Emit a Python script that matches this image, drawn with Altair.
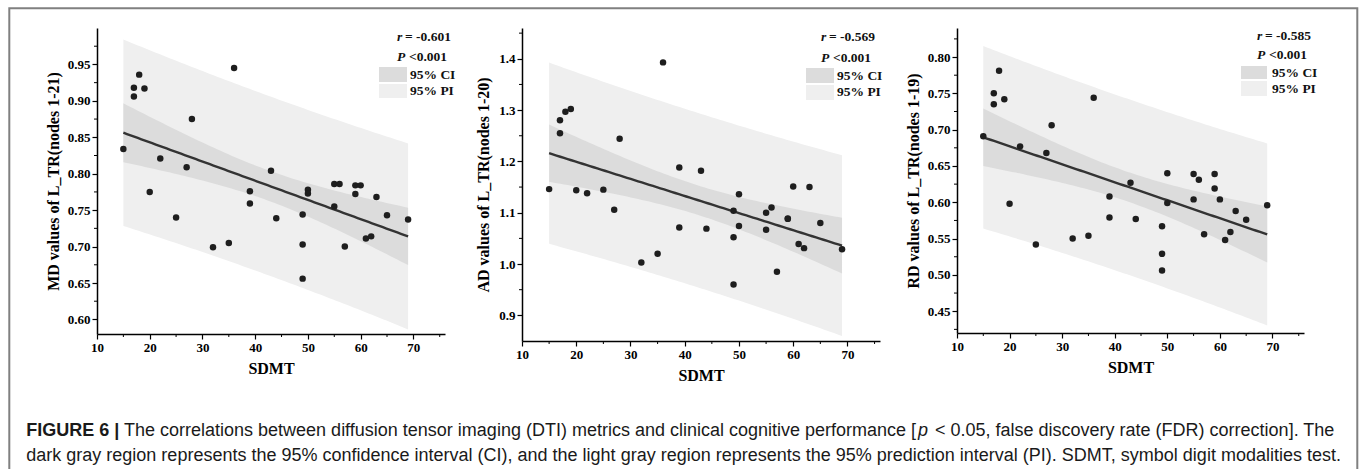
import altair as alt
import numpy as np
import pandas as pd

# ---- data -------------------------------------------------------------
sdmt = [15, 17, 17, 18, 19, 20, 22, 25, 27, 28, 32, 35, 36, 39, 39, 43, 44,
        49, 49, 49, 50, 50, 55, 55, 56, 57, 59, 59, 60, 61, 62, 63, 65, 69]

md_values = [0.834, 0.918, 0.906, 0.936, 0.917, 0.775, 0.821, 0.740, 0.809,
             0.875, 0.699, 0.705, 0.945, 0.776, 0.759, 0.804, 0.739, 0.744,
             0.703, 0.656, 0.778, 0.773, 0.786, 0.755, 0.786, 0.700, 0.784,
             0.772, 0.784, 0.711, 0.714, 0.768, 0.743, 0.737]

ad_values = [1.146, 1.280, 1.255, 1.297, 1.302, 1.144, 1.138, 1.145, 1.106,
             1.244, 1.003, 1.020, 1.393, 1.188, 1.071, 1.182, 1.069, 1.104,
             1.052, 0.960, 1.136, 1.074, 1.100, 1.067, 1.110, 0.985, 1.089,
             1.088, 1.151, 1.039, 1.031, 1.150, 1.080, 1.029]

rd_values = [0.691, 0.750, 0.735, 0.781, 0.742, 0.598, 0.677, 0.542, 0.668,
             0.706, 0.550, 0.554, 0.744, 0.608, 0.579, 0.627, 0.577, 0.567,
             0.529, 0.506, 0.640, 0.599, 0.639, 0.604, 0.631, 0.556, 0.639,
             0.619, 0.604, 0.548, 0.559, 0.588, 0.576, 0.596]

r_labels = ["= -0.601", "= -0.569", "= -0.585"]
p_label = "<0.001"

x_major = [10, 20, 30, 40, 50, 60, 70]
x_minor = [15, 25, 35, 45, 55, 65, 75]

SERIF = "Liberation Serif"
SANS = "Liberation Sans"
INK = "#111111"
PI_GRAY = "#efefef"
CI_GRAY = "#dcdcdc"


def fit_bands(x, y, t_crit=2.037, n_grid=80):
    """OLS fit with 95% confidence and prediction bands."""
    x = np.asarray(x, float)
    y = np.asarray(y, float)
    n = len(x)
    slope, icept = np.polyfit(x, y, 1)
    s = np.sqrt(np.sum((y - (icept + slope * x)) ** 2) / (n - 2))
    xbar = x.mean()
    sxx = np.sum((x - xbar) ** 2)
    grid = np.linspace(x.min(), x.max(), n_grid)
    yhat = icept + slope * grid
    se_mean = s * np.sqrt(1 / n + (grid - xbar) ** 2 / sxx)
    se_pred = s * np.sqrt(1 + 1 / n + (grid - xbar) ** 2 / sxx)
    return pd.DataFrame({
        "x": grid, "fit": yhat,
        "ci_lo": yhat - t_crit * se_mean, "ci_hi": yhat + t_crit * se_mean,
        "pi_lo": yhat - t_crit * se_pred, "pi_hi": yhat + t_crit * se_pred,
    })


one = pd.DataFrame({"k": [0]})


def label(text, x, y, italic=False, size=13.5, align="left"):
    return alt.Chart(one).mark_text(
        text=text, font=SERIF, fontSize=size, fontWeight="bold",
        fontStyle="italic" if italic else "normal", color=INK,
        align=align, baseline="middle",
    ).encode(x=alt.value(x), y=alt.value(y))


def swatch(x0, x1, y0, y1, color):
    return alt.Chart(one).mark_rect(color=color).encode(
        x=alt.value(x0), x2=alt.value(x1), y=alt.value(y0), y2=alt.value(y1))


def panel(values, ytitle, ydomain, y_major, y_minor, yfmt, width, height,
          r_text, leg, title_pad):
    pts = pd.DataFrame({"SDMT": sdmt, "v": values})
    band = fit_bands(sdmt, values)
    xs = alt.Scale(domain=[10, 76], nice=False, zero=False)
    ys = alt.Scale(domain=ydomain, nice=False, zero=False)
    xax = alt.Axis(values=x_major, format="d", title="SDMT")
    yax = alt.Axis(values=y_major, format=yfmt, title=ytitle,
                   titlePadding=title_pad)

    def X(f):
        return alt.X(f, type="quantitative", scale=xs, axis=xax)

    def Y(f):
        return alt.Y(f, type="quantitative", scale=ys, axis=yax)

    pi = alt.Chart(band).mark_area(color=PI_GRAY).encode(
        x=X("x"), y=Y("pi_lo"), y2="pi_hi")
    ci = alt.Chart(band).mark_area(color=CI_GRAY).encode(
        x=X("x"), y=Y("ci_lo"), y2="ci_hi")
    line = alt.Chart(band).mark_line(color="#333333", strokeWidth=2.4).encode(
        x=X("x"), y=Y("fit"))
    dots = alt.Chart(pts).mark_circle(size=42, color="#1e1e1e", opacity=1).encode(
        x=X("SDMT"), y=Y("v"))

    xminor = alt.Chart(pd.DataFrame({"t": x_minor})).mark_rule(
        color="black", strokeWidth=1).encode(
        x=X("t"), y=alt.value(height), y2=alt.value(height + 3))
    yminor = alt.Chart(pd.DataFrame({"t": y_minor})).mark_rule(
        color="black", strokeWidth=1).encode(
        y=Y("t"), x=alt.value(-3), x2=alt.value(0))

    lx, ry, py, ci_box, pi_box, tx, cy, piy = leg
    legend = [
        label("r", lx, ry, italic=True),
        label(r_text, lx + 8, ry),
        label("P", lx, py, italic=True),
        label(p_label, lx + 12, py),
        swatch(ci_box[0], ci_box[1], ci_box[2], ci_box[3], CI_GRAY),
        swatch(pi_box[0], pi_box[1], pi_box[2], pi_box[3], PI_GRAY),
        label("95% CI", tx, cy),
        label("95% PI", tx, piy),
    ]
    return alt.layer(pi, ci, line, dots, xminor, yminor, *legend).properties(
        width=width, height=height)


p1 = panel(md_values, "MD values of L_TR(nodes 1-21)", [0.58, 1.0],
           [0.60, 0.65, 0.70, 0.75, 0.80, 0.85, 0.90, 0.95],
           [0.625, 0.675, 0.725, 0.775, 0.825, 0.875, 0.925, 0.975],
           ".2f", 348, 306, r_labels[0],
           (300, 9, 29, (282, 310, 39, 54), (282, 310, 56, 70), 313, 47, 63),
           6)
p2 = panel(ad_values, "AD values of L_TR(nodes 1-20)", [0.85, 1.46],
           [0.9, 1.0, 1.1, 1.2, 1.3, 1.4],
           [0.95, 1.05, 1.15, 1.25, 1.35, 1.45],
           ".1f", 358, 313, r_labels[1],
           (299, 9, 30, (284, 312, 40, 55), (284, 312, 57, 72), 315, 48, 64),
           7)
p3 = panel(rd_values, "RD values of L_TR(nodes 1-19)", [0.42, 0.84],
           [0.45, 0.50, 0.55, 0.60, 0.65, 0.70, 0.75, 0.80],
           [0.425, 0.475, 0.525, 0.575, 0.625, 0.675, 0.725, 0.775, 0.825],
           ".2f", 347, 305, r_labels[2],
           (300, 8, 27, (284, 310, 38, 51), (284, 310, 53, 68), 315, 45, 61),
           6)

# Frame around the figure and the caption, drawn relative to the first panel
frame = alt.Chart(one).mark_rect(
    fillOpacity=0, stroke="#808080", strokeWidth=2).encode(
    x=alt.value(-87.7), x2=alt.value(1260.3), y=alt.value(-19.7), y2=alt.value(470))


def caption(text, x, y, weight="normal", style="normal"):
    return alt.Chart(one).mark_text(
        text=text, font=SANS, fontSize=18, fontWeight=weight, fontStyle=style,
        color="#1a1a1a", align="left", baseline="alphabetic",
    ).encode(x=alt.value(x), y=alt.value(y))


cap = [
    caption("FIGURE 6 |", -70.7, 408.3, weight="bold"),
    caption("The correlations between diffusion tensor imaging (DTI) metrics and "
            "clinical cognitive performance [", 27, 408.3),
    caption("p", 821, 408.3, style="italic"),
    caption("< 0.05, false discovery rate (FDR) correction]. The", 838, 408.3),
    caption("dark gray region represents the 95% confidence interval (CI), and the "
            "light gray region represents the 95% prediction interval (PI). SDMT, "
            "symbol digit modalities test.", -70.7, 433.3),
]

p1 = alt.layer(p1, frame, *cap)

chart = alt.hconcat(p1, p2, p3, spacing=77, bounds="flush").properties(
    padding={"left": 7, "top": 6, "right": 0, "bottom": 0},
    background="white",
).configure_view(stroke="transparent").configure_axis(
    grid=False,
    labelFont=SERIF, labelFontWeight="bold", labelFontSize=13,
    labelColor="black", labelPadding=2, labelFlush=False,
    titleFont=SERIF, titleFontWeight="bold", titleFontSize=16,
    titleColor="black",
    domainColor="black", domainWidth=1.5,
    tickColor="black", tickWidth=1.2, tickSize=5,
).configure_axisX(titlePadding=6)

chart.save("out.html", embed_options={"renderer": "svg", "actions": False})
